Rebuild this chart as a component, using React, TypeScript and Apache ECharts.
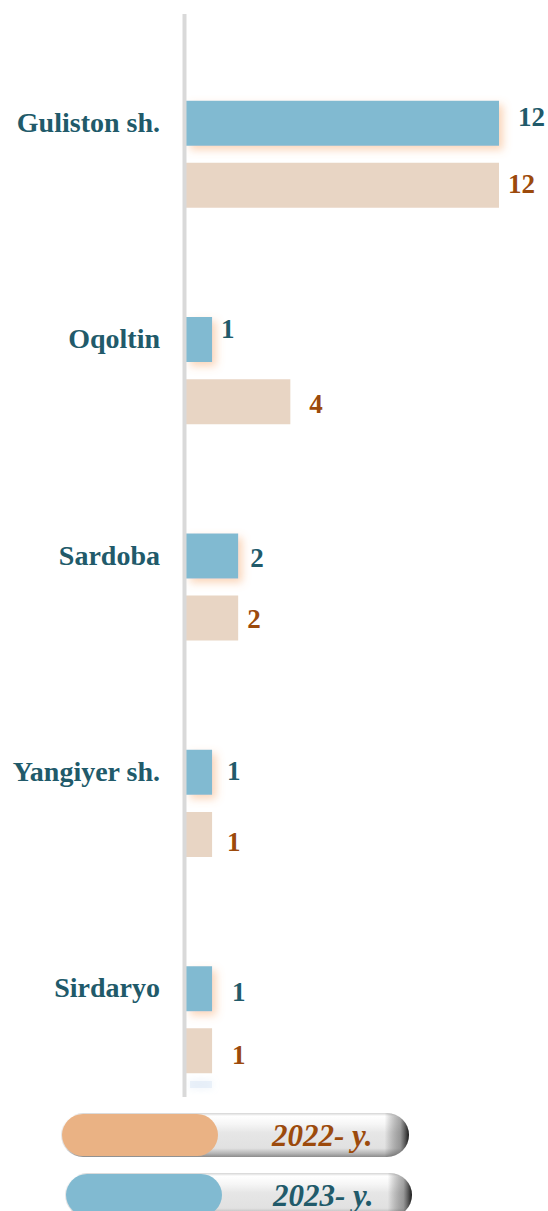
import React, { useEffect, useRef } from "react";
import * as echarts from "echarts";

const categories = ["Guliston sh.", "Oqoltin", "Sardoba", "Yangiyer sh.", "Sirdaryo"];
const values2023 = [12, 1, 2, 1, 1];
const values2022 = [12, 4, 2, 1, 1];
const legendLabels = ["2022- y.", "2023- y."];

// label placement tweaks (px) per bar, as in the reference
const labelDist2023 = [19, 9, 12, 15, 20];
const labelDy2023 = [-6, -11, 2, -1, 3];
const labelDist2022 = [9, 19, 9, 15, 20];
const labelDy2022 = [-1, 2, 1, 8, 4];

const FONT = '"Liberation Serif", "Times New Roman", serif';
const BLUE = "#81bad1";
const BEIGE = "#e8d5c4";
const ORANGE = "#eab284";
const TEAL = "#215a6a";
const BROWN = "#9c4a0c";

function pill(x: number, y: number, w: number, h: number, inner: string, innerW: number, text: string, textColor: string, textX: number) {
  const r = h / 2;
  return [
    {
      type: "rect",
      shape: { x, y, width: w, height: h, r },
      style: {
        fill: new echarts.graphic.LinearGradient(0, 0, 0, 1, [
          { offset: 0, color: "#d4d4d4" },
          { offset: 0.07, color: "#ffffff" },
          { offset: 0.25, color: "#f6f6f6" },
          { offset: 0.45, color: "#e6e6e6" },
          { offset: 0.8, color: "#e1e1e1" },
          { offset: 0.92, color: "#b4b4b4" },
          { offset: 1, color: "#8c8c8c" },
        ]),
      },
      z: 10,
    },
    {
      type: "rect",
      shape: { x, y, width: w, height: h, r },
      style: {
        fill: new echarts.graphic.LinearGradient(0, 0, 1, 0, [
          { offset: 0, color: "rgba(0,0,0,0)" },
          { offset: 0.93, color: "rgba(0,0,0,0)" },
          { offset: 0.975, color: "rgba(60,60,60,0.45)" },
          { offset: 1, color: "rgba(0,0,0,0.9)" },
        ]),
      },
      z: 11,
    },
    {
      type: "rect",
      shape: { x: x + 1, y: y + 1, width: innerW, height: h - 2, r: r - 1 },
      style: { fill: inner },
      z: 12,
    },
    {
      type: "text",
      x: textX,
      y: y + h / 2,
      style: {
        text,
        fill: textColor,
        font: `italic bold 31px ${FONT}`,
        textVerticalAlign: "middle",
        textAlign: "left",
      },
      z: 13,
    },
  ];
}

export default function App() {
  const ref = useRef<HTMLDivElement>(null);
  useEffect(() => {
    document.body.style.margin = "0";
    if (!ref.current) return;
    const chart = echarts.init(ref.current, null, { renderer: "svg" });
    const mk = (vals: number[], dist: number[], dy: number[]) =>
      vals.map((v, i) => ({ value: v, label: { distance: dist[i], offset: [0, dy[i]] } }));
    chart.setOption({
      animation: false,
      backgroundColor: "#ffffff",
      grid: { left: 186, top: 46, width: 313, height: 1082, containLabel: false },
      xAxis: {
        type: "value",
        min: 0,
        max: 12,
        show: false,
      },
      yAxis: {
        type: "category",
        data: categories,
        inverse: true,
        axisLine: { show: false },
        axisTick: { show: false },
        axisLabel: {
          margin: 26,
          color: TEAL,
          fontFamily: FONT,
          fontWeight: "bold",
          fontSize: 28,
          lineHeight: 64,
          verticalAlign: "bottom",
        },
      },
      series: [
        {
          name: legendLabels[1],
          type: "bar",
          data: mk(values2023, labelDist2023, labelDy2023),
          barWidth: 45,
          barGap: "38%",
          itemStyle: {
            color: BLUE,
            shadowColor: "rgba(245,160,100,0.45)",
            shadowBlur: 8,
            shadowOffsetX: 4,
            shadowOffsetY: 4,
          },
          label: {
            show: true,
            position: "right",
            color: TEAL,
            fontFamily: FONT,
            fontWeight: "bold",
            fontSize: 27,
          },
        },
        {
          name: legendLabels[0],
          type: "bar",
          data: mk(values2022, labelDist2022, labelDy2022),
          barWidth: 45,
          itemStyle: { color: BEIGE },
          label: {
            show: true,
            position: "right",
            color: BROWN,
            fontFamily: FONT,
            fontWeight: "bold",
            fontSize: 27,
          },
        },
      ],
      graphic: [
        {
          type: "rect",
          shape: { x: 190, y: 1081, width: 22, height: 7 },
          style: { fill: "rgba(215,228,243,0.45)", shadowBlur: 8, shadowColor: "rgba(205,222,240,0.9)" },
          z: 1,
        },
        {
          type: "line",
          shape: { x1: 184.5, y1: 14, x2: 184.5, y2: 1097 },
          style: { stroke: "#d9d9d9", lineWidth: 4 },
          z: 5,
        },
        ...pill(61, 1113, 348, 44, ORANGE, 156, legendLabels[0], BROWN, 272),
        ...pill(65, 1173, 347, 44, BLUE, 156, legendLabels[1], TEAL, 273),
      ],
    });
    return () => chart.dispose();
  }, []);
  return <div ref={ref} style={{ width: 548, height: 1211 }} />;
}
